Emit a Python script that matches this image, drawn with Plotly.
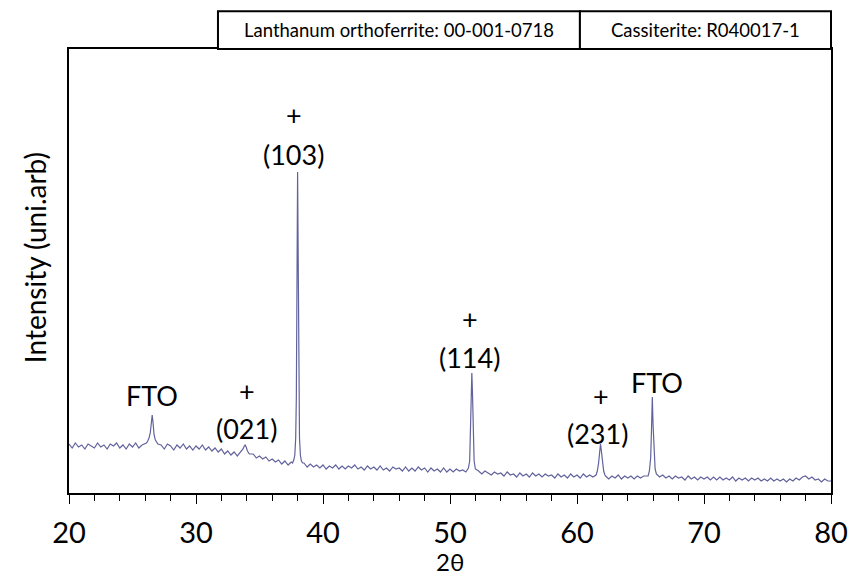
import numpy as np
import plotly.graph_objects as go

# ---------------- data ----------------
# background scan on a 0.25 deg grid starting at 20.0 (intensity, arb. units)
bg_start = 20.0
bg_step = 0.25
bg_intensity = [
    49, 45, 50, 46,   # 20
    48, 44, 49, 47,   # 21
    45, 50, 46, 48,   # 22
    44, 49, 47, 50,   # 23
    45, 48, 44, 49,   # 24
    46, 50, 45, 48,   # 25
    50, 53, 60, 70,   # 26
    50, 48, 44, 49,   # 27
    47, 43, 48, 45,   # 28
    49, 44, 47, 43,   # 29
    47, 44, 48, 43,   # 30
    46, 42, 45, 41,   # 31
    44, 39, 42, 38,   # 32
    41, 37, 41, 44,   # 33
    46, 41, 39, 35,   # 34
    37, 34, 36, 32,   # 35
    34, 31, 33, 29,   # 36
    32, 28, 31, 31,   # 37
    31, 30, 30, 26,   # 38
    29, 26, 28, 25,   # 39
    28, 24, 27, 25,   # 40
    28, 24, 27, 24,   # 41
    27, 25, 28, 24,   # 42
    26, 23, 27, 24,   # 43
    26, 23, 27, 23,   # 44
    25, 22, 26, 24,   # 45
    25, 22, 26, 22,   # 46
    25, 22, 26, 23,   # 47
    25, 21, 25, 22,   # 48
    24, 21, 25, 21,   # 49
    24, 21, 24, 22,   # 50
    23, 21, 24, 23,   # 51
    22, 22, 19, 22,   # 52
    20, 18, 21, 19,   # 53
    20, 17, 21, 18,   # 54
    19, 16, 20, 17,   # 55
    19, 16, 20, 17,   # 56
    19, 16, 19, 17,   # 57
    18, 15, 19, 16,   # 58
    18, 15, 19, 16,   # 59
    18, 15, 19, 16,   # 60
    18, 16, 18, 19,   # 61
    19, 17, 14, 17,   # 62
    15, 18, 14, 17,   # 63
    15, 17, 14, 17,   # 64
    15, 17, 17, 18,   # 65
    18, 18, 16, 18,   # 66
    15, 17, 14, 17,   # 67
    15, 16, 13, 17,   # 68
    14, 16, 13, 16,   # 69
    14, 16, 13, 16,   # 70
    13, 16, 13, 15,   # 71
    13, 16, 12, 15,   # 72
    13, 15, 12, 15,   # 73
    13, 15, 12, 14,   # 74
    12, 15, 12, 14,   # 75
    12, 14, 11, 14,   # 76
    12, 15, 13, 16,   # 77
    17, 14, 16, 13,   # 78
    14, 11, 14, 12,   # 79
    12,               # 80
]

# finely sampled peak regions (two-theta, intensity)
fto1_x = [26.10, 26.20, 26.30, 26.40, 26.50, 26.55, 26.62, 26.70, 26.80, 26.90, 27.00]
fto1_y = [50, 52, 55, 60, 74, 78, 70, 58, 53, 51, 49]

p021_x = [33.45, 33.60, 33.70, 33.80, 33.87, 33.95, 34.05, 34.20, 34.35]
p021_y = [40, 42, 44, 47, 48, 46, 42, 39, 39]

p103_x = [37.60, 37.70, 37.78, 37.85, 37.90, 37.94, 37.97, 38.00, 38.03, 38.06, 38.10, 38.15, 38.22, 38.30, 38.40]
p103_y = [30, 33, 38, 55, 95, 170, 260, 321, 265, 175, 95, 55, 38, 32, 30]

p114_x = [51.35, 51.45, 51.55, 51.62, 51.67, 51.72, 51.77, 51.82, 51.90, 52.00]
p114_y = [23, 25, 32, 60, 100, 120, 100, 60, 32, 24]

p231_x = [61.50, 61.60, 61.70, 61.78, 61.85, 61.92, 62.00, 62.10, 62.20]
p231_y = [18, 22, 30, 42, 49, 42, 30, 22, 18]

fto2_x = [65.60, 65.70, 65.80, 65.87, 65.93, 65.99, 66.06, 66.15, 66.25]
fto2_y = [17, 22, 35, 65, 96, 68, 38, 24, 19]

peak_segments = [(fto1_x, fto1_y), (p021_x, p021_y), (p103_x, p103_y),
                 (p114_x, p114_y), (p231_x, p231_y), (fto2_x, fto2_y)]

# peak labels
label_text = ["FTO", "(021)", "(103)", "(114)", "(231)", "FTO"]
label_theta = [26.54, 33.94, 37.7, 51.5, 61.6, 66.3]
label_y = [98, 65, 339, 136, 60, 111]
plus_theta = [None, 34.0, 37.75, 51.57, 61.9, None]
plus_y = [None, 103, 379, 175, 98, None]

legend_items = ["Lanthanum orthoferrite: 00-001-0718", "Cassiterite: R040017-1"]
y_title = "Intensity (uni.arb)"
x_title = "2θ"

# ---------------- assemble scan ----------------
bg_x = bg_start + bg_step * np.arange(len(bg_intensity))
bg_y = np.array(bg_intensity, dtype=float)
keep = np.ones(len(bg_x), dtype=bool)
for px, py in peak_segments:
    keep &= ~((bg_x > px[0] - 0.05) & (bg_x < px[-1] + 0.05))
all_x = list(bg_x[keep])
all_y = list(bg_y[keep])
for px, py in peak_segments:
    all_x += px
    all_y += py
order = np.argsort(all_x)
theta = np.array(all_x)[order]
inten = np.array(all_y)[order]

FONT = "Lato, Open Sans, sans-serif"
fig = go.Figure()
fig.add_trace(go.Scatter(x=theta, y=inten, mode="lines",
                         line=dict(color="#62629c", width=1.2),
                         hoverinfo="skip", showlegend=False))

for th, txt, ty in zip(label_theta, label_text, label_y):
    fig.add_annotation(x=th, y=ty, text=txt, showarrow=False,
                       xanchor="center", yanchor="middle",
                       font=dict(family=FONT, size=27, color="black"))
for th, py_ in zip(plus_theta, plus_y):
    if th is not None:
        fig.add_annotation(x=th, y=py_, text="+", showarrow=False,
                           xanchor="center", yanchor="middle",
                           font=dict(family=FONT, size=27, color="black"))

# legend boxes on top of the plot
bx = [0.1955, 0.6705, 1.0]
btop = 1.085
for i, name in enumerate(legend_items):
    fig.add_shape(type="rect", xref="paper", yref="paper",
                  x0=bx[i], x1=bx[i + 1], y0=1.0, y1=btop,
                  line=dict(color="black", width=2), fillcolor="white")
    fig.add_annotation(xref="paper", yref="paper", x=(bx[i] + bx[i + 1]) / 2,
                       y=(1.0 + btop) / 2, text=name, showarrow=False,
                       xanchor="center", yanchor="middle",
                       font=dict(family=FONT, size=18.5, color="black"))

# axis titles
fig.add_annotation(xref="paper", yref="paper", x=-0.0446, y=0.529,
                   text=y_title, textangle=-90, showarrow=False,
                   xanchor="center", yanchor="middle",
                   font=dict(family=FONT, size=28, color="black"))
fig.add_annotation(xref="paper", yref="paper", x=0.5, y=-0.154,
                   text=x_title, showarrow=False, borderpad=0,
                   xanchor="center", yanchor="middle",
                   font=dict(family=FONT, size=24, color="black"))

fig.update_layout(
    width=850, height=579,
    margin=dict(l=69, r=19, t=49, b=86, autoexpand=False),
    paper_bgcolor="white", plot_bgcolor="white",
    font=dict(family=FONT, color="black"),
)
fig.update_xaxes(range=[20, 80], tick0=20, dtick=10, automargin=False,
                 ticks="outside", ticklen=9, tickwidth=1.2, tickcolor="black",
                 ticklabelstandoff=4,
                 minor=dict(dtick=2, ticks="outside", ticklen=6, tickwidth=1, tickcolor="black"),
                 showline=True, linecolor="black", linewidth=2, mirror=True,
                 showgrid=False, zeroline=False,
                 tickfont=dict(family=FONT, size=29, color="black"))
fig.update_yaxes(range=[0, 444], showticklabels=False, ticks="", automargin=False,
                 showline=True, linecolor="black", linewidth=2, mirror=True,
                 showgrid=False, zeroline=False)

fig.write_html("out.html")
